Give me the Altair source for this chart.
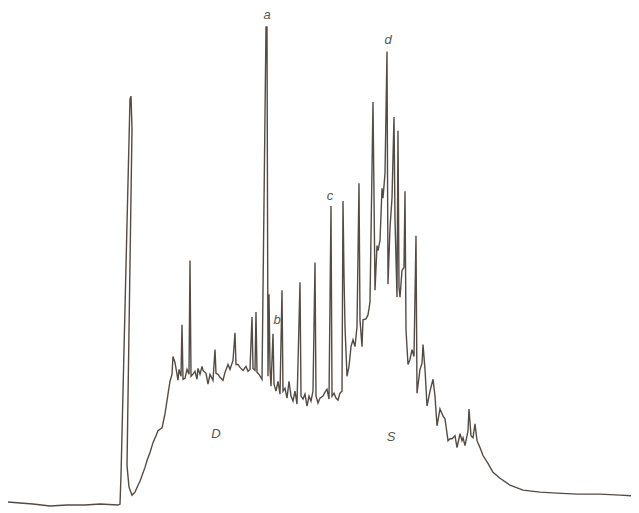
import altair as alt
import pandas as pd

# retention position (chart-recorder time units)
time = [8, 20, 33, 50, 67, 85, 100, 118, 120,
        121, 130, 131, 132, 127, 129, 132, 135, 138, 140, 145, 147, 150, 153, 156, 158, 162, 165, 168, 170,
        172, 173, 175, 177, 178, 179, 181, 182, 183, 185, 187, 189, 190, 191, 192, 195, 197, 198, 200, 202,
        203, 206, 208, 210, 213, 215, 216, 218, 220, 223, 225, 228, 230, 233, 235, 236, 238, 240, 243, 246,
        248, 250, 252, 253, 255, 256, 257, 259, 262, 266, 267, 268, 269, 270, 271, 273, 274, 276, 278, 280,
        282, 283, 285, 287, 289, 291, 293, 295, 297, 300, 301, 303, 305, 307, 309, 311, 313, 315, 316, 318,
        320, 323, 325, 327, 329, 331, 332, 334, 336, 338, 340, 342, 343, 344, 345, 347, 349, 351, 353, 355,
        357, 359, 360, 362, 363, 366, 368, 370, 373, 375, 377, 378, 380, 382, 383, 385, 387, 388, 390, 392,
        394, 395, 397, 398, 399, 400, 402, 404, 405, 406, 408, 410, 412, 414, 416, 417, 420, 422, 423, 425,
        427, 430, 433, 435, 437, 440, 443, 445, 448, 450, 452, 455, 457, 460, 462, 463, 465, 468, 469, 471,
        473, 475, 477, 480, 483, 488, 493, 500, 510, 523, 540, 557, 577, 600, 620, 639]

# detector response (arbitrary units)
response = [6, 5, 4, 2, 3, 3, 4, 3, 4,
            33, 413, 416, 383, 43, 21, 13, 16, 23, 27, 41, 48, 56, 66, 73, 78, 81, 95, 115, 128,
            135, 153, 147, 135, 129, 140, 133, 185, 130, 131, 140, 135, 250, 133, 134, 138, 130, 141, 135, 143,
            139, 136, 125, 135, 129, 160, 136, 135, 132, 129, 137, 145, 140, 149, 177, 145, 145, 142, 139, 143,
            138, 140, 193, 141, 139, 198, 137, 135, 130, 486, 486, 133, 216, 141, 123, 176, 125, 118, 128, 115,
            220, 118, 121, 111, 128, 113, 108, 118, 105, 228, 113, 110, 115, 103, 113, 108, 118, 248, 113, 106,
            111, 113, 117, 120, 110, 305, 113, 116, 111, 109, 116, 118, 310, 235, 183, 133, 143, 163, 170, 163,
            183, 328, 190, 163, 190, 191, 195, 208, 410, 220, 265, 260, 270, 323, 313, 338, 461, 226, 283, 313,
            395, 291, 213, 381, 223, 213, 240, 243, 320, 180, 145, 150, 160, 153, 275, 116, 140, 146, 165, 140,
            103, 118, 130, 113, 83, 100, 93, 90, 68, 70, 70, 73, 61, 75, 68, 71, 63, 78, 100, 73,
            71, 85, 68, 61, 53, 45, 36, 30, 23, 18, 16, 15, 14, 14, 13, 12]

# peak / region annotations
label_text = ["a", "b", "c", "d", "D", "S"]
label_time = [267, 277, 330, 388, 216, 391]
label_resp = [498, 190, 315, 473, 75, 72]

trace = pd.DataFrame({"t": time, "r": response, "i": list(range(len(time)))})
labels = pd.DataFrame({"t": label_time, "r": label_resp, "txt": label_text})

xs = alt.Scale(domain=[8, 631], nice=False, zero=False)
ys = alt.Scale(domain=[1, 503], nice=False, zero=False)

line = alt.Chart(trace).mark_line(color="#544b45", strokeWidth=1.4, clip=True).encode(
    x=alt.X("t:Q", scale=xs, axis=None),
    y=alt.Y("r:Q", scale=ys, axis=None),
    order=alt.Order("i:Q"),
)

text = alt.Chart(labels).mark_text(
    font="Liberation Sans", fontStyle="italic", fontSize=13, color="#555555", baseline="middle"
).encode(
    x=alt.X("t:Q", scale=xs, axis=None),
    y=alt.Y("r:Q", scale=ys, axis=None),
    text="txt:N",
)

chart = (line + text).properties(width=623, height=497, padding=0, background="white").configure_view(stroke=None)

chart.save("out.html", embed_options={"renderer": "svg", "actions": False})
